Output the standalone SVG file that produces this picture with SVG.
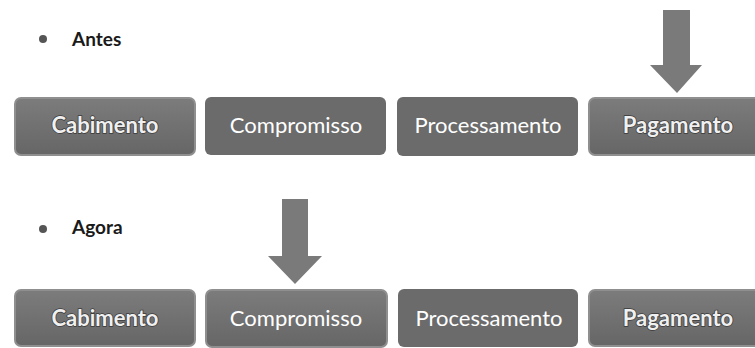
<svg xmlns="http://www.w3.org/2000/svg" width="755" height="348" viewBox="0 0 755 348">
<style>
.box{fill:#6b6b6b}
.hl{fill:url(#g);stroke:#8f8f8f;stroke-width:2}
.t{font-family:Lato,"Open Sans",sans-serif;font-size:22px;fill:#ffffff;text-anchor:middle}
.tb{font-family:Lato,"Open Sans",sans-serif;font-size:22px;font-weight:bold;fill:#f0f0f0;text-anchor:middle;stroke:#3a3a3a;stroke-width:1.5;paint-order:stroke}
.lbl{font-family:Lato,"Open Sans",sans-serif;font-size:19px;font-weight:bold;fill:#1a1a1a}
.dot{fill:#555555}
.arr{fill:#7a7a7a}
</style>
<defs>
<linearGradient id="g" x1="0" y1="0" x2="0" y2="1">
<stop offset="0" stop-color="#7c7c7c"/>
<stop offset="1" stop-color="#666666"/>
</linearGradient>
</defs>
<rect width="755" height="348" fill="#ffffff"/>
<g id="label-antes">
<circle class="dot" cx="43" cy="39" r="4"/>
<text class="lbl" x="72" y="46">Antes</text>
</g>
<g id="label-agora">
<circle class="dot" cx="43" cy="229" r="4"/>
<text class="lbl" x="72" y="234">Agora</text>
</g>
<g id="antes-cabimento">
<rect class="hl" x="15" y="98" width="180" height="57" rx="6"/>
<text class="tb" x="105" y="133">Cabimento</text>
</g>
<g id="antes-compromisso">
<rect class="box" x="205" y="97" width="181" height="58" rx="6"/>
<text class="t" x="296" y="133">Compromisso</text>
</g>
<g id="antes-processamento">
<rect class="box" x="397" y="97" width="181" height="59" rx="6"/>
<text class="t" x="488" y="133">Processamento</text>
</g>
<g id="antes-pagamento">
<rect class="hl" x="589" y="98" width="180" height="57" rx="6"/>
<text class="tb" x="678" y="133">Pagamento</text>
</g>
<g id="agora-cabimento">
<rect class="hl" x="15" y="290" width="180" height="56" rx="6"/>
<text class="tb" x="105" y="326">Cabimento</text>
</g>
<g id="agora-compromisso">
<rect class="hl" x="206" y="290" width="181" height="57" rx="6"/>
<text class="t" x="296" y="326">Compromisso</text>
</g>
<g id="agora-processamento">
<rect class="box" x="398" y="289" width="180" height="58" rx="6"/>
<text class="t" x="489" y="326">Processamento</text>
</g>
<g id="agora-pagamento">
<rect class="hl" x="589" y="290" width="180" height="56" rx="6"/>
<text class="tb" x="678" y="326">Pagamento</text>
</g>
<g id="connectors">
<polygon class="arr" points="663,10 690,10 690,65 702,65 677,93 650,65 663,65"/>
<polygon class="arr" points="282,199 308,199 308,256 322,256 295,284 268,256 282,256"/>
</g>
</svg>
